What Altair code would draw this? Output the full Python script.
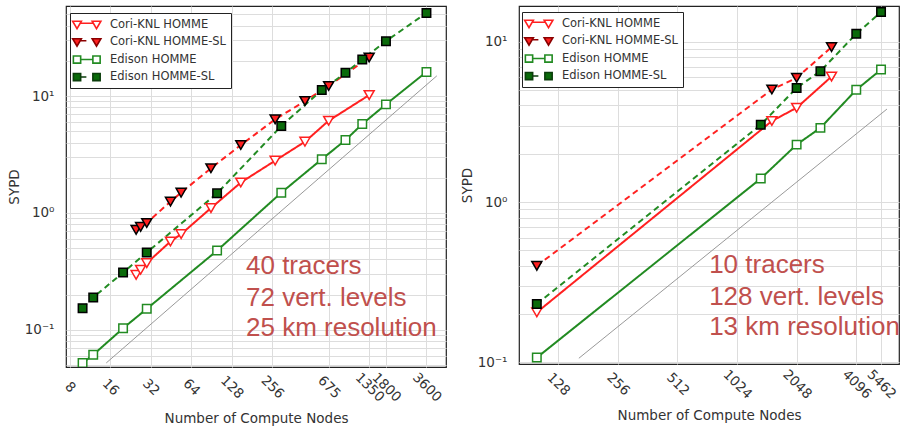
import altair as alt
import pandas as pd

SERIES = ["Cori-KNL HOMME", "Cori-KNL HOMME-SL", "Edison HOMME", "Edison HOMME-SL"]

# ---- left panel (40 tracers, 25 km) ----
L_cori_homme_x = [25, 27, 30, 45, 54, 90, 150, 270, 450, 675, 1350]
L_cori_homme_y = [0.295, 0.326, 0.372, 0.569, 0.658, 1.10, 1.82, 2.80, 4.07, 6.15, 10.2]
L_cori_sl_x = [25, 27, 30, 45, 54, 90, 150, 270, 450, 675, 1350]
L_cori_sl_y = [0.716, 0.759, 0.82, 1.25, 1.49, 2.41, 3.81, 6.32, 9.06, 12.2, 21.4]
L_edison_homme_x = [10, 12, 20, 30, 100, 300, 600, 900, 1200, 1800, 3600]
L_edison_homme_y = [0.052, 0.061, 0.103, 0.151, 0.476, 1.49, 2.88, 4.2, 5.76, 8.49, 16.1]
L_edison_sl_x = [10, 12, 20, 30, 100, 300, 600, 900, 1200, 1800, 3600]
L_edison_sl_y = [0.153, 0.189, 0.309, 0.458, 1.47, 5.54, 11.25, 15.8, 20.6, 29.5, 51.5]
L_ideal_x = [15, 4300]
L_ideal_y = [0.052, 14.9]
L_xticks = [8, 16, 32, 64, 128, 256, 675, 1350, 1800, 3600]
L_text = ["40 tracers", "72 vert. levels", "25 km resolution"]
L_text_x = [164, 164, 164]
L_text_y = [0.352, 0.188, 0.104]

# ---- right panel (10 tracers, 13 km) ----
R_cori_homme_x = [100, 1536, 2048, 3072]
R_cori_homme_y = [0.205, 3.2, 3.87, 6.06]
R_cori_sl_x = [100, 1536, 2048, 3072]
R_cori_sl_y = [0.40, 5.03, 5.95, 9.25]
R_edison_homme_x = [100, 1350, 2048, 2700, 4096, 5462]
R_edison_homme_y = [0.107, 1.40, 2.28, 2.90, 5.01, 6.70]
R_edison_sl_x = [100, 1350, 2048, 2700, 4096, 5462]
R_edison_sl_y = [0.231, 3.03, 5.15, 6.55, 11.2, 15.3]
R_ideal_x = [163, 5850]
R_ideal_y = [0.106, 3.80]
R_xticks = [128, 256, 512, 1024, 2048, 4096, 5462]
R_text = ["10 tracers", "128 vert. levels", "13 km resolution"]
R_text_x = [741, 741, 741]
R_text_y = [0.407, 0.257, 0.167]

RED = "#ff2020"
GREEN = "#228b22"
DKGREEN = "#0a6a0a"
LINE_COLORS = [RED, RED, GREEN, GREEN]
DASHES = [[1, 0], [6, 4], [1, 0], [6, 4]]
MARK_SHAPES = ["triangle-down", "triangle-down", "square", "square"]
MARK_FILLS = ["white", RED, "white", DKGREEN]
MARK_STROKES = [RED, "black", GREEN, "black"]
LEGEND_STROKES = [RED, "#8b0000", GREEN, "#0b3d0b"]

# legend glyphs: marker, line (solid or one dash), marker
_TRI = ("M-1.36,-0.5 L-0.02,-0.5 L-0.69,0.65 Z "
        "M1.64,-0.5 L2.98,-0.5 L2.31,0.65 Z ")
_SQ = ("M-1.25,-0.55 L-0.13,-0.55 L-0.13,0.55 L-1.25,0.55 Z "
       "M1.75,-0.55 L2.87,-0.55 L2.87,0.55 L1.75,0.55 Z ")
LEGEND_SHAPES = [
    _TRI + "M-0.2,-0.2 L1.8,-0.2",
    _TRI + "M-0.2,-0.2 L0.75,-0.2",
    _SQ + "M-0.13,0 L1.75,0",
    _SQ + "M-0.13,0 L0.75,0",
]


def minor_ticks(lo_exp, hi_exp):
    vals = []
    for e in range(lo_exp, hi_exp + 1):
        for m in range(1, 10):
            vals.append(round(m * 10 ** e, 10))
    return vals


def panel(series_data, ideal_x, ideal_y, xticks, xdomain, ydomain, yvals,
          texts, tx, ty, w, h, lx, ly):
    rows = []
    for name, (xs, ys) in zip(SERIES, series_data):
        for a, b in zip(xs, ys):
            rows.append({"series": name, "nodes": a, "sypd": b})
    df = pd.DataFrame(rows)

    xscale = alt.Scale(type="log", domain=xdomain, nice=False)
    yscale = alt.Scale(type="log", domain=ydomain, nice=False)
    xaxis = alt.Axis(values=xticks, title="Number of Compute Nodes", format="d",
                     labelAngle=45, labelAlign="center", labelBaseline="middle",
                     labelPadding=20, ticks=False, domain=False,
                     labelFont="DejaVu Sans", labelFontSize=13.5, labelColor="#333333",
                     titleFont="DejaVu Sans", titleFontSize=13.5, titleFontWeight="normal",
                     titleColor="#333333", titlePadding=8, grid=True,
                     labelOverlap=False, labelFlush=False)
    yaxis = alt.Axis(values=yvals, title="SYPD", ticks=False, domain=False,
                     labelExpr="datum.value == 0.1 ? '10⁻¹' : datum.value == 1 ? '10⁰' : datum.value == 10 ? '10¹' : ''",
                     labelFont="DejaVu Sans", labelFontSize=13.5, labelColor="#333333",
                     labelPadding=12, titleFont="DejaVu Sans", titleFontSize=13.5,
                     titleFontWeight="normal", titleColor="#333333", titlePadding=3,
                     grid=True, labelOverlap=False, labelFlush=False)

    base = alt.Chart(df)
    lines = base.mark_line(strokeWidth=2, clip=True).encode(
        x=alt.X("nodes:Q", scale=xscale, axis=xaxis),
        y=alt.Y("sypd:Q", scale=yscale, axis=yaxis),
        color=alt.Color("series:N", scale=alt.Scale(range=LINE_COLORS), legend=None),
        strokeDash=alt.StrokeDash("series:N", scale=alt.Scale(range=DASHES), legend=None),
        detail="series:N",
    )

    ideal = alt.Chart(pd.DataFrame({"nodes": ideal_x, "sypd": ideal_y})).mark_line(
        color="#999999", strokeWidth=1).encode(
        x=alt.X("nodes:Q", scale=xscale), y=alt.Y("sypd:Q", scale=yscale))

    pts = []
    for i, name in enumerate(SERIES):
        pts.append(
            base.transform_filter(alt.datum.series == name).mark_point(
                shape=MARK_SHAPES[i], filled=True, fill=MARK_FILLS[i],
                stroke=MARK_STROKES[i], strokeWidth=1.5, opacity=1,
                size=100 if i < 2 else 72, clip=True).encode(
                x=alt.X("nodes:Q", scale=xscale), y=alt.Y("sypd:Q", scale=yscale))
        )

    leg = alt.Legend(
        orient="none", legendX=lx, legendY=ly, title=None,
        symbolSize=169, symbolStrokeWidth=1.6,
        labelOffset=21, padding=4, rowPadding=2.5,
        labelFont="DejaVu Sans", labelFontSize=11.5, labelColor="#333333",
        labelLimit=300, fillColor="white", strokeColor="#222222",
    )
    leg_df = pd.DataFrame({"series_l": SERIES})
    legend_layer = alt.Chart(leg_df).transform_filter("false").mark_point(
        filled=True, strokeWidth=1.6, opacity=1).encode(
        shape=alt.Shape("series_l:N", scale=alt.Scale(domain=SERIES, range=LEGEND_SHAPES),
                        legend=leg),
        fill=alt.Fill("series_l:N", scale=alt.Scale(domain=SERIES, range=MARK_FILLS),
                      legend=leg),
        stroke=alt.Stroke("series_l:N", scale=alt.Scale(domain=SERIES, range=LEGEND_STROKES),
                          legend=leg),
    )

    txt = alt.Chart(pd.DataFrame({"nodes": tx, "sypd": ty, "t": texts})).mark_text(
        align="left", baseline="middle", font="Liberation Sans", fontSize=26,
        color="#c0504d").encode(
        x=alt.X("nodes:Q", scale=xscale), y=alt.Y("sypd:Q", scale=yscale), text="t:N")

    return alt.layer(ideal, lines, *pts, txt, legend_layer).properties(width=w, height=h)


left = panel([(L_cori_homme_x, L_cori_homme_y), (L_cori_sl_x, L_cori_sl_y),
              (L_edison_homme_x, L_edison_homme_y), (L_edison_sl_x, L_edison_sl_y)],
             L_ideal_x, L_ideal_y, L_xticks, [7.53, 5030], [0.048, 59],
             [v for v in minor_ticks(-2, 1) if 0.048 <= v <= 59],
             L_text, L_text_x, L_text_y, 380, 361, 4, 7)

right = panel([(R_cori_homme_x, R_cori_homme_y), (R_cori_sl_x, R_cori_sl_y),
               (R_edison_homme_x, R_edison_homme_y), (R_edison_sl_x, R_edison_sl_y)],
              R_ideal_x, R_ideal_y, R_xticks, [81.3, 6730], [0.0976, 16.7],
              [v for v in minor_ticks(-1, 1) if 0.0976 <= v <= 16.7],
              R_text, R_text_x, R_text_y, 380, 358, 3, 6)

chart = alt.hconcat(left, right, spacing=73, bounds="flush").resolve_scale(
    color="independent", strokeDash="independent", shape="independent",
    fill="independent", stroke="independent", x="independent", y="independent"
).resolve_legend(
    color="independent", strokeDash="independent", shape="independent",
    fill="independent", stroke="independent"
).configure_view(stroke="#222222", strokeWidth=1.2).configure_axis(
    gridColor="#dddddd", gridWidth=1
).properties(padding={"left": 6, "top": 5, "right": 0, "bottom": 0}, background="white")

chart.save("out.html", embed_options={"renderer": "svg", "actions": False})
